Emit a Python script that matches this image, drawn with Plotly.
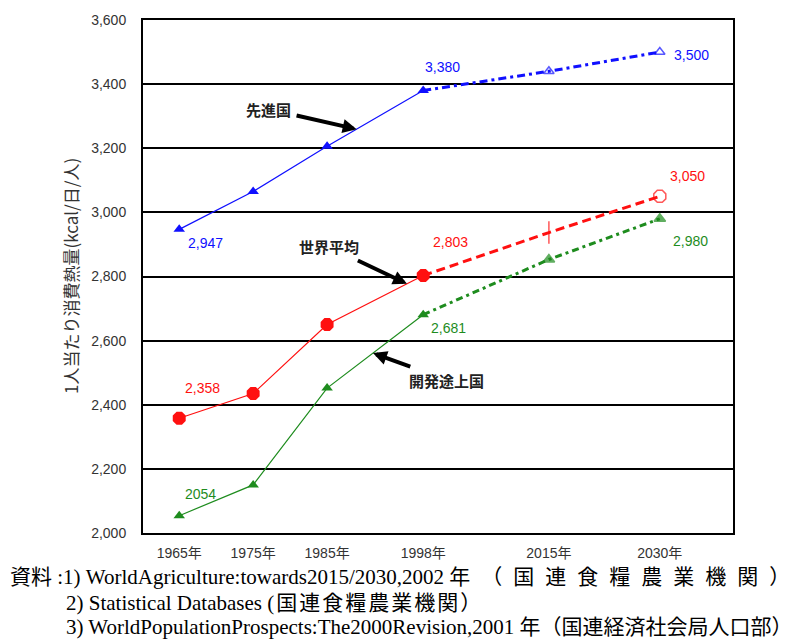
import numpy as np
import plotly.graph_objects as go

# Per-capita dietary energy supply (kcal/person/day)
years = [1965, 1975, 1985, 1998, 2015, 2030]
year_labels = ["1965年", "1975年", "1985年", "1998年", "2015年", "2030年"]
developed = [2947, 3065, 3206, 3380, 3440, 3500]
world = [2358, 2435, 2650, 2803, 2937, 3050]
developing = [2054, 2150, 2452, 2681, 2853, 2980]

series_names = ["先進国", "世界平均", "開発途上国"]
y_ticks = [2000, 2200, 2400, 2600, 2800, 3000, 3200, 3400, 3600]

# figure geometry (pixels)
W, H = 794, 640
L, R, T, B = 143, 61, 14, 107
PW, PH = W - L - R, H - T - B


def px_x(px):
    return (px - L) / PW


def px_y(py):
    return (H - B - py) / PH


BLUE = "#1010ff"
RED = "#ff1010"
GREEN = "#1e8c1e"

fig = go.Figure()


def add_series(vals, color, hist_symbol, hist_size, proj_symbols, proj_sizes,
               proj_dash, name):
    # observed years: thin solid line with filled markers
    fig.add_trace(go.Scatter(
        x=years[:4], y=vals[:4], mode="lines+markers", name=name,
        line=dict(color=color, width=1.2),
        marker=dict(symbol=hist_symbol, size=hist_size, color=color),
        showlegend=False))
    # projections: heavier broken line
    fig.add_trace(go.Scatter(
        x=years[3:], y=vals[3:], mode="lines", name=name,
        line=dict(color=color, width=3, dash=proj_dash),
        showlegend=False))
    fig.add_trace(go.Scatter(
        x=years[4:], y=vals[4:], mode="markers", name=name,
        marker=dict(symbol=proj_symbols, size=proj_sizes, color=color,
                    line=dict(color=color, width=1.5)),
        showlegend=False))


add_series(developed, BLUE, "triangle-up", 10,
           ["triangle-up-open", "triangle-up-open"], [9, 9],
           "8px,4px,3px,4px", series_names[0])
add_series(world, RED, "octagon", 14,
           ["line-ns", "octagon-open"], [16, 13],
           "9px,5px", series_names[1])
add_series(developing, GREEN, "triangle-up", 10,
           ["triangle-up", "triangle-up"], [10, 10],
           "7px,4px,3px,4px", series_names[2])

annotations = []

# value labels: (series values, index, text, colour, xshift, yshift)
value_labels = [
    (developed, 0, "2,947", BLUE, 26, -14),
    (developed, 3, "3,380", BLUE, 19, 24),
    (developed, 5, "3,500", BLUE, 32, -3),
    (world, 0, "2,358", RED, 23, 30),
    (world, 3, "2,803", RED, 27, 34),
    (world, 5, "3,050", RED, 28, 20),
    (developing, 0, "2054", GREEN, 21, 22),
    (developing, 3, "2,681", GREEN, 25, -13),
    (developing, 5, "2,980", GREEN, 31, -22),
]
for vals, i, txt, col, xs, ys in value_labels:
    annotations.append(dict(
        x=years[i], y=vals[i], text=txt, showarrow=False,
        xshift=xs, yshift=ys, xanchor="center", yanchor="middle",
        font=dict(family="Liberation Sans Narrow, Liberation Sans, Arial",
                  size=14, color=col)))

# series name call-outs with arrows pointing at the lines
callouts = [
    (developed, 1989.0, series_names[0], -88, -20),
    (world, 1995.8, series_names[1], -78, -37),
    (developing, 1991.2, series_names[2], 74, 27),
]
for vals, yr, txt, ax, ay in callouts:
    annotations.append(dict(
        x=yr, y=float(np.interp(yr, years, vals)), text="<b>" + txt + "</b>",
        showarrow=True, ax=ax, ay=ay, arrowhead=2, arrowsize=0.7,
        arrowwidth=4, arrowcolor="black", standoff=0, startstandoff=4,
        font=dict(family="Noto Sans CJK JP", size=15, color="#222222")))

# y-axis title
annotations.append(dict(
    xref="paper", yref="paper", x=px_x(70), y=px_y(273),
    text="1人当たり消費熱量(kcal/日/人)", textangle=-90, showarrow=False,
    xanchor="center", yanchor="middle",
    font=dict(family="Noto Sans CJK JP", size=17, color="#333333")))

# sources (first line is justified to the full width)
SRC_FONT = "Liberation Serif, Noto Sans CJK JP"
sources = [
    ('資料 :1) WorldAgriculture:towards2015/2030,2002 '
     '<span style="letter-spacing:11px">年（国連食糧農業機関</span>）', 8, 578),
    ('2) Statistical Databases '
     '<span style="letter-spacing:2px">(国連食糧農業機関</span>）', 64, 604),
    ("3) WorldPopulationProspects:The2000Revision,2001 年（国連経済社会局人口部）", 64, 628),
]
for txt, x0, y0 in sources:
    annotations.append(dict(
        xref="paper", yref="paper", x=px_x(x0), y=px_y(y0), text=txt,
        showarrow=False, xanchor="left", yanchor="middle",
        font=dict(family=SRC_FONT, size=21, color="black")))

fig.update_layout(
    width=W, height=H,
    margin=dict(l=L, r=R, t=T, b=B),
    paper_bgcolor="white", plot_bgcolor="white",
    annotations=annotations,
    xaxis=dict(range=[1960.1, 2039.9], tickvals=years, ticktext=year_labels,
               showgrid=False, zeroline=False, showline=True, mirror=True,
               linecolor="black", linewidth=2, ticks="",
               ticklabelstandoff=6,
               tickfont=dict(family="Liberation Sans Narrow, Liberation Sans, Noto Sans CJK JP",
                             size=14, color="#333333")),
    yaxis=dict(range=[2000, 3600], tickvals=y_ticks, tickformat=",",
               showgrid=True, gridcolor="black", gridwidth=1.5,
               zeroline=False, showline=True, mirror=True,
               linecolor="black", linewidth=2, ticks="",
               ticklabelstandoff=12,
               tickfont=dict(family="Liberation Sans Narrow, Liberation Sans",
                             size=14, color="#333333")),
)

fig.write_html("out.html")
